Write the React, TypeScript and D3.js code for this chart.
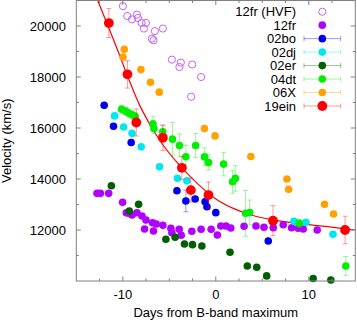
import React, { useEffect, useRef } from 'react';
import * as d3 from 'd3';

type Pt = [number, number, number?];

// [day, velocity, error]
const hvf12fr: Pt[] = [
  [-9.99, 20780], [-9.52, 20390], [-9.01, 20260], [-8.48, 20445], [-8.37, 20315],
  [-7.98, 20120], [-7.51, 20120], [-7.73, 19900], [-6.55, 19800], [-5.69, 19900],
  [-6.87, 19505], [-6.7, 19440], [-4.72, 18680], [-3.76, 18565], [-3.91, 18390],
  [-2.54, 18490], [-1.58, 18000], [-2.65, 17225],
];

const sn12fr: Pt[] = [
  [-12.77, 13437], [-12.41, 13437], [-11.52, 13437], [-10.02, 13085], [-9.62, 12677],
  [-9.38, 12654], [-9.01, 12587], [-8.48, 12677], [-7.94, 12548], [-7.51, 12392],
  [-7.66, 12039], [-6.8, 12287], [-6.41, 12235], [-6.7, 11961], [-5.69, 12183],
  [-4.83, 12066], [-4.72, 11894], [-3.94, 12027], [-3.72, 11793], [-2.58, 11950],
  [-1.58, 12027], [-0.5, 12027], [0.17, 11804], [0.54, 12157], [1.1, 12157],
  [1.61, 12078], [3.04, 12145], [4.32, 12157], [5.18, 12105], [6.18, 12090],
  [7.25, 12207], [8.15, 12090], [8.86, 12066], [9.4, 12039], [10.9, 12000],
];

const sn02bo: Pt[] = [
  [-12.0, 16890, 100], [-11.0, 16070, 100], [-9.1, 15430, 100], [-4.18, 13540, 100],
  [-3.22, 13135, 420], [-2.22, 13215, 100], [-1.15, 13110, 100], [-0.95, 12910, 100],
  [0.0, 12680, 100], [5.64, 11570, 100],
];

const sn02dj: Pt[] = [
  [-10.88, 16475, 80], [-9.91, 16040, 80], [-9.01, 15790, 80], [-8.02, 15260, 80],
  [-6.05, 14480, 80], [-4.12, 14025, 80], [-3.11, 13930, 80], [8.4, 12340, 80],
  [9.69, 12300, 80], [12.6, 11830, 80],
];

const sn02er: Pt[] = [
  [-11.23, 13735, 80], [-9.3, 12745, 80], [-8.3, 13005, 80], [-5.37, 11635, 80],
  [-4.37, 11715, 80], [-3.37, 11450, 80], [-2.51, 11425, 80], [-1.5, 11375, 80],
  [1.53, 11125, 80], [3.39, 10590, 80], [4.4, 10540, 80], [5.47, 10200, 80],
  [10.47, 10100, 80], [12.37, 10040, 80],
];

const sn04dt: Pt[] = [
  [-10.13, 16737, 160], [-9.7, 16660, 160], [-9.34, 16580, 160], [-8.98, 16515, 160],
  [-8.66, 16445, 160], [-6.76, 16160, 300], [-6.65, 15980, 200], [-5.71, 15850, 260],
  [-4.66, 15563, 650], [-3.91, 15316, 450], [-3.22, 14870, 450], [-2.17, 15316, 470],
  [-1.22, 14866, 350], [-0.79, 14650, 300], [0.84, 14584, 460], [1.8, 13890, 450],
  [2.1, 14024, 500], [3.2, 12654, 900], [3.65, 12685, 490], [8.97, 12262, 150],
  [13.98, 10590, 370],
];

const sn06X: Pt[] = [
  [-9.98, 18785, 60], [-9.84, 19086, 60], [-8.05, 18290, 60], [-7.02, 17795, 60],
  [-6.08, 17405, 60], [-1.22, 15980, 60], [-0.08, 15690, 60], [3.77, 14880, 60],
  [7.65, 14000, 60], [7.83, 13595, 60], [11.69, 13005, 60], [12.66, 12625, 60],
];

const sn19ein: Pt[] = [
  [-11.5, 20115, 570], [-9.5, 18105, 540], [-8.55, 16215, 530], [-5.69, 15615, 500],
  [-3.65, 14440, 450], [-2.68, 13565, 470], [-0.79, 13370, 510], [6.15, 12365, 590],
  [13.9, 12000, 540],
];

// red fit line
const fitLine: [number, number][] = [
  [-12.7, 21000], [-11.7, 20100], [-10.5, 19000], [-9.5, 18050], [-8, 16750],
  [-6, 15500], [-4, 14580], [-2, 13830], [0, 13220], [2, 12830], [4, 12570],
  [6, 12410], [8, 12300], [10, 12210], [12, 12130], [15, 12000],
];

const seriesNames = ['12fr (HVF)', '12fr', '02bo', '02dj', '02er', '04dt', '06X', '19ein'];
const seriesColors = ['#c864f0', '#b000ff', '#0000f0', '#00e8ef', '#005f00', '#00ee00', '#ffa200', '#ff0000'];
const seriesData = [hvf12fr, sn12fr, sn02bo, sn02dj, sn02er, sn04dt, sn06X, sn19ein];

const xTicks = [-10, 0, 10];
const yTicks = [12000, 14000, 16000, 18000, 20000];

const App = () => {
  const svgRef = useRef<SVGSVGElement>(null);

  useEffect(() => {
    const font = "'Liberation Sans', Arial, Helvetica, sans-serif";
    const frameColor = '#808080';

    const svg = d3.select(svgRef.current);
    svg.selectAll('*').remove();

    const x = d3.scaleLinear().domain([-15, 15]).range([76.3, 355.3]);
    const y = d3.scaleLinear().domain([10000, 21000]).range([281, 0.5]);
    const [x0, x1] = x.range();
    const [y0, y1] = y.range();

    // fit curve
    svg.append('path')
      .datum(fitLine)
      .attr('d', d3.line<[number, number]>().x(d => x(d[0])).y(d => y(d[1])).curve(d3.curveCatmullRom))
      .attr('fill', 'none')
      .attr('stroke', '#ff0000')
      .attr('stroke-width', 1.2);

    // points and error bars
    seriesData.forEach((pts, i) => {
      const color = seriesColors[i];
      const g = svg.append('g');
      const withErr = pts.filter(p => p[2]);
      const eb = g.append('g')
        .attr('stroke', color)
        .attr('stroke-opacity', 0.4)
        .attr('stroke-width', 1);
      withErr.forEach(p => {
        const cx = x(p[0]);
        const top = y(p[1] + (p[2] as number));
        const bot = y(p[1] - (p[2] as number));
        eb.append('line').attr('x1', cx).attr('x2', cx).attr('y1', top).attr('y2', bot);
        eb.append('line').attr('x1', cx - 2.5).attr('x2', cx + 2.5).attr('y1', top).attr('y2', top);
        eb.append('line').attr('x1', cx - 2.5).attr('x2', cx + 2.5).attr('y1', bot).attr('y2', bot);
      });
      const r = i === 7 ? 4.9 : i === 0 ? 3.6 : 3.8;
      g.selectAll('circle')
        .data(pts)
        .join('circle')
        .attr('cx', d => x(d[0]))
        .attr('cy', d => y(d[1]))
        .attr('r', r)
        .attr('fill', i === 0 ? 'none' : color)
        .attr('stroke', i === 0 ? color : 'none')
        .attr('stroke-width', 1);
    });

    // frame
    svg.append('rect')
      .attr('x', x0).attr('y', y1)
      .attr('width', x1 - x0).attr('height', y0 - y1)
      .attr('fill', 'none')
      .attr('stroke', frameColor);

    const tickG = svg.append('g').attr('stroke', frameColor);
    d3.range(-12.5, 13, 2.5).forEach(t => {
      const len = xTicks.includes(t) ? 4.5 : 2.5;
      tickG.append('line').attr('x1', x(t)).attr('x2', x(t)).attr('y1', y0).attr('y2', y0 - len);
      tickG.append('line').attr('x1', x(t)).attr('x2', x(t)).attr('y1', y1).attr('y2', y1 + len);
    });
    d3.range(11000, 20500, 1000).forEach(t => {
      const len = yTicks.includes(t) ? 4.5 : 2.5;
      tickG.append('line').attr('x1', x0).attr('x2', x0 + len).attr('y1', y(t)).attr('y2', y(t));
      tickG.append('line').attr('x1', x1).attr('x2', x1 - len).attr('y1', y(t)).attr('y2', y(t));
    });

    const txt = svg.append('g')
      .attr('font-family', font)
      .attr('font-size', 13)
      .attr('fill', '#000');

    txt.selectAll('.xt')
      .data(xTicks)
      .join('text')
      .attr('x', d => x(d))
      .attr('y', 299)
      .attr('text-anchor', 'middle')
      .text(d => String(d));

    txt.selectAll('.yt')
      .data(yTicks)
      .join('text')
      .attr('x', 66)
      .attr('y', d => y(d) + 4.6)
      .attr('text-anchor', 'end')
      .text(d => String(d));

    txt.append('text')
      .attr('x', (x0 + x1) / 2)
      .attr('y', 317)
      .attr('text-anchor', 'middle')
      .text('Days from B-band maximum');

    txt.append('text')
      .attr('transform', `translate(11,${(y0 + y1) / 2}) rotate(-90)`)
      .attr('text-anchor', 'middle')
      .text('Velocity (km/s)');

    // legend
    const leg = svg.append('g');
    seriesNames.forEach((name, i) => {
      const ly = 11.7 + i * 13.47;
      const color = seriesColors[i];
      leg.append('text')
        .attr('x', 296)
        .attr('y', ly + 4.6)
        .attr('text-anchor', 'end')
        .attr('font-family', font)
        .attr('font-size', 13)
        .text(name);
      if (i >= 2) {
        const lg = leg.append('g').attr('stroke', color).attr('stroke-opacity', 0.4);
        lg.append('line').attr('x1', 304).attr('x2', 340.7).attr('y1', ly).attr('y2', ly);
        lg.append('line').attr('x1', 304).attr('x2', 304).attr('y1', ly - 2.5).attr('y2', ly + 2.5);
        lg.append('line').attr('x1', 340.7).attr('x2', 340.7).attr('y1', ly - 2.5).attr('y2', ly + 2.5);
      }
      leg.append('circle')
        .attr('cx', 322.3)
        .attr('cy', ly)
        .attr('r', i === 7 ? 4.9 : i === 0 ? 3.6 : 3.8)
        .attr('fill', i === 0 ? 'none' : color)
        .attr('stroke', i === 0 ? color : 'none');
    });
  }, []);

  return (
    <svg
      ref={svgRef}
      width={357}
      height={322}
      style={{ position: 'absolute', left: 0, top: 0, background: '#fff' }}
    />
  );
};

export default App;
